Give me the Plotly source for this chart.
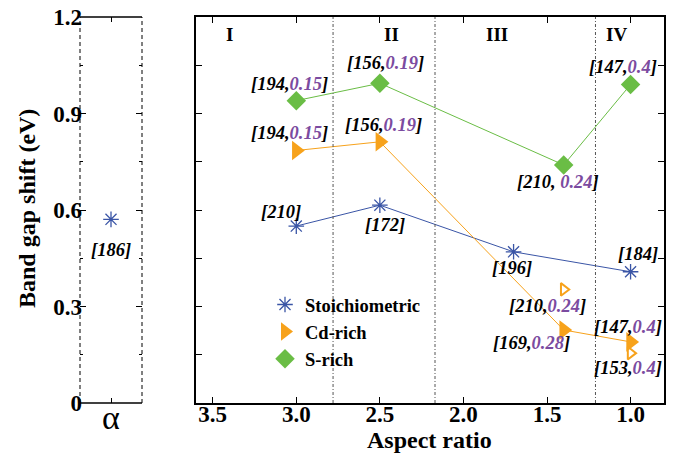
import plotly.graph_objects as go

# ---------------- data ----------------
alpha_y = [0.571]
alpha_label = ["[186]"]

stoich_x = [3.0, 2.5, 1.7, 1.0]
stoich_y = [0.55, 0.615, 0.47, 0.408]
stoich_labels = ["[210]", "[172]", "[196]", "[184]"]

cd_x = [3.0, 2.5, 1.4, 1.0]
cd_y = [0.785, 0.812, 0.227, 0.19]
cd_labels = [("194", "0.15"), ("156", "0.19"), ("169", "0.28"), ("147", "0.4")]

cd_open_x = [1.4, 1.0]
cd_open_y = [0.353, 0.155]
cd_open_labels = [("210", "0.24"), ("153", "0.4")]

s_x = [3.0, 2.5, 1.4, 1.0]
s_y = [0.94, 0.994, 0.74, 0.99]
s_labels = [("194", "0.15"), ("156", "0.19"), ("210", " 0.24"), ("147", "0.4")]

region_names = ["I", "II", "III", "IV"]
region_x = [3.40, 2.43, 1.80, 1.085]
region_bounds = [2.78, 2.17, 1.21]

x_ticks = [3.5, 3.0, 2.5, 2.0, 1.5, 1.0]
y_ticks = [0, 0.3, 0.6, 0.9, 1.2]
y_ticktext = ["0", "0.3", "0.6", "0.9", "1.2"]

# ---------------- style ----------------
BLUE = "#3a55a6"
ORANGE = "#f7a21b"
GREEN = "#6abd45"
PURPLE = "#7b4ba0"
SERIF = "Liberation Serif"
W, H = 673, 457

fig = go.Figure()

st_marker = dict(symbol="asterisk-open", size=13, color=BLUE, line=dict(color=BLUE, width=1.3))
cd_marker = dict(symbol="triangle-right", size=17, color=ORANGE)
s_marker = dict(symbol="diamond", size=15, color=GREEN)

# left panel (alpha)
fig.add_trace(go.Scatter(x=[0], y=alpha_y, mode="markers", xaxis="x", yaxis="y",
                         marker=st_marker, showlegend=False))

fig.add_trace(go.Scatter(x=stoich_x, y=stoich_y, mode="lines+markers", showlegend=False,
                         xaxis="x2", yaxis="y2", line=dict(color=BLUE, width=1), marker=st_marker))
fig.add_trace(go.Scatter(x=cd_x, y=cd_y, mode="lines+markers", showlegend=False,
                         xaxis="x2", yaxis="y2", line=dict(color=ORANGE, width=1), marker=cd_marker))
fig.add_trace(go.Scatter(x=s_x, y=s_y, mode="lines+markers", showlegend=False,
                         xaxis="x2", yaxis="y2", line=dict(color=GREEN, width=1), marker=s_marker))
fig.add_trace(go.Scatter(x=cd_open_x, y=cd_open_y, mode="markers", showlegend=False,
                         xaxis="x2", yaxis="y2",
                         marker=dict(symbol="triangle-right-open", size=11, color=ORANGE,
                                     line=dict(color=ORANGE, width=2))))

# legend entries (markers only, like the reference)
for name, mk in (("Stoichiometric", st_marker), ("Cd-rich", cd_marker), ("S-rich", s_marker)):
    fig.add_trace(go.Scatter(x=[None], y=[None], mode="markers", name=name,
                             xaxis="x2", yaxis="y2", marker=mk))

ann_font = dict(family=SERIF, size=18.5, color="black", weight="bold", style="italic")


def pair(a, b):
    return f"[{a},<span style='color:{PURPLE}'>{b}</span>]"


annotations = []


def lab(text, x, y, dx, dy, xref="x2", yref="y2"):
    annotations.append(dict(text=text, x=x, y=y, xref=xref, yref=yref, showarrow=False,
                            xanchor="center", yanchor="middle",
                            xshift=dx, yshift=dy, font=ann_font))


lab(alpha_label[0], 0, alpha_y[0], 0, -31, "x", "y")

st_off = [(-15, 14), (5, -20), (-2, -16.5), (7.5, 17.5)]
for (t, x, y, o) in zip(stoich_labels, stoich_x, stoich_y, st_off):
    lab(t, x, y, *o)

cd_off = [(-7, 17), (4, 17), (-32, -13), (-2.5, 15)]
for (t, x, y, o) in zip(cd_labels, cd_x, cd_y, cd_off):
    lab(pair(*t), x, y, *o)

cdo_off = [(-16, -17), (-2.5, -15)]
for (t, x, y, o) in zip(cd_open_labels, cd_open_x, cd_open_y, cdo_off):
    lab(pair(*t), x, y, *o)

s_off = [(-7, 17), (6, 20), (-5.5, -17), (-8, 18)]
for (t, x, y, o) in zip(s_labels, s_x, s_y, s_off):
    lab(pair(*t), x, y, *o)

for name, x in zip(region_names, region_x):
    annotations.append(dict(text=f"<b>{name}</b>", x=x, y=1.145, xref="x2", yref="y2",
                            showarrow=False, font=dict(family=SERIF, size=19, color="black")))

# axis titles
annotations.append(dict(text="<b>Band gap shift (eV)</b>", x=27 / W, y=1 - 209 / H,
                        xref="paper", yref="paper", showarrow=False, textangle=-90,
                        xanchor="center", yanchor="middle",
                        font=dict(family=SERIF, size=24, color="black")))
annotations.append(dict(text="<b>Aspect ratio</b>", x=430 / W, y=1 - 440 / H,
                        xref="paper", yref="paper", showarrow=False,
                        xanchor="center", yanchor="middle",
                        font=dict(family=SERIF, size=24, color="black")))

shapes = []
for b in region_bounds:
    shapes.append(dict(type="line", xref="x2", yref="y2 domain", x0=b, x1=b, y0=0, y1=1,
                       line=dict(color="#555555", width=1, dash="3px,2px,1px,2px")))
for xx in (0, 1):
    shapes.append(dict(type="line", xref="x domain", yref="y domain", x0=xx, x1=xx, y0=0, y1=1,
                       line=dict(color="black", width=1, dash="4px,3px")))
for yy in (0, 1):
    shapes.append(dict(type="line", xref="x domain", yref="y domain", x0=0, x1=1, y0=yy, y1=yy,
                       line=dict(color="black", width=1.5)))

xd1 = [80 / W, 142 / W]
xd2 = [196 / W, 664 / W]
yd = [1 - 403 / H, 1 - 17 / H]

tickfont = dict(family=SERIF, size=23, color="black", weight="bold")
ytick_common = dict(domain=yd, range=[0, 1.2], tickvals=y_ticks, ticks="inside", ticklen=6,
                    tickcolor="black", showline=False, showgrid=False, zeroline=False,
                    minor=dict(ticks="inside", ticklen=3, tickcolor="black", dtick=0.15,
                               showgrid=False))

fig.update_layout(
    width=W, height=H,
    margin=dict(l=0, r=0, t=0, b=0),
    paper_bgcolor="white", plot_bgcolor="white",
    annotations=annotations, shapes=shapes,
    xaxis=dict(domain=xd1, range=[-1, 1], tickvals=[0], ticktext=["α"],
               tickfont=dict(family=SERIF, size=34, color="black"), ticklabelstandoff=-9,
               ticks="inside", ticklen=5, tickcolor="black", showline=False,
               mirror="ticks", showgrid=False, zeroline=False, anchor="y"),
    yaxis=dict(**ytick_common, ticktext=y_ticktext, tickfont=tickfont, anchor="x",
               ticklabelstandoff=-3, automargin=False),
    yaxis3=dict(**ytick_common, overlaying="y", side="right", anchor="x",
                showticklabels=False),
    xaxis2=dict(domain=xd2, range=[3.6, 0.8], tickvals=x_ticks, tickformat=".1f",
                tickfont=tickfont, ticks="inside", ticklen=6, tickcolor="black",
                ticklabelstandoff=-10,
                showline=True, linecolor="black", linewidth=1.5, mirror="ticks",
                showgrid=False, zeroline=False, anchor="y2", automargin=False),
    yaxis2=dict(domain=yd, range=[0, 1.2], dtick=0.15, showticklabels=False,
                ticks="inside", ticklen=6, tickcolor="black", showline=True, linecolor="black",
                linewidth=1.5, mirror="ticks", showgrid=False, zeroline=False, anchor="x2",
                automargin=False),
    legend=dict(x=265 / W, y=1 - 286 / H, xanchor="left", yanchor="top",
                font=dict(family=SERIF, size=18.5, color="black", weight="bold"),
                bgcolor="rgba(0,0,0,0)", borderwidth=0, tracegroupgap=0, itemwidth=30),
    showlegend=True,
)

# dummy trace so the right-side tick axis of the left panel is drawn
fig.add_trace(go.Scatter(x=[None], y=[None], xaxis="x", yaxis="y3", showlegend=False))

fig.write_html("out.html")
